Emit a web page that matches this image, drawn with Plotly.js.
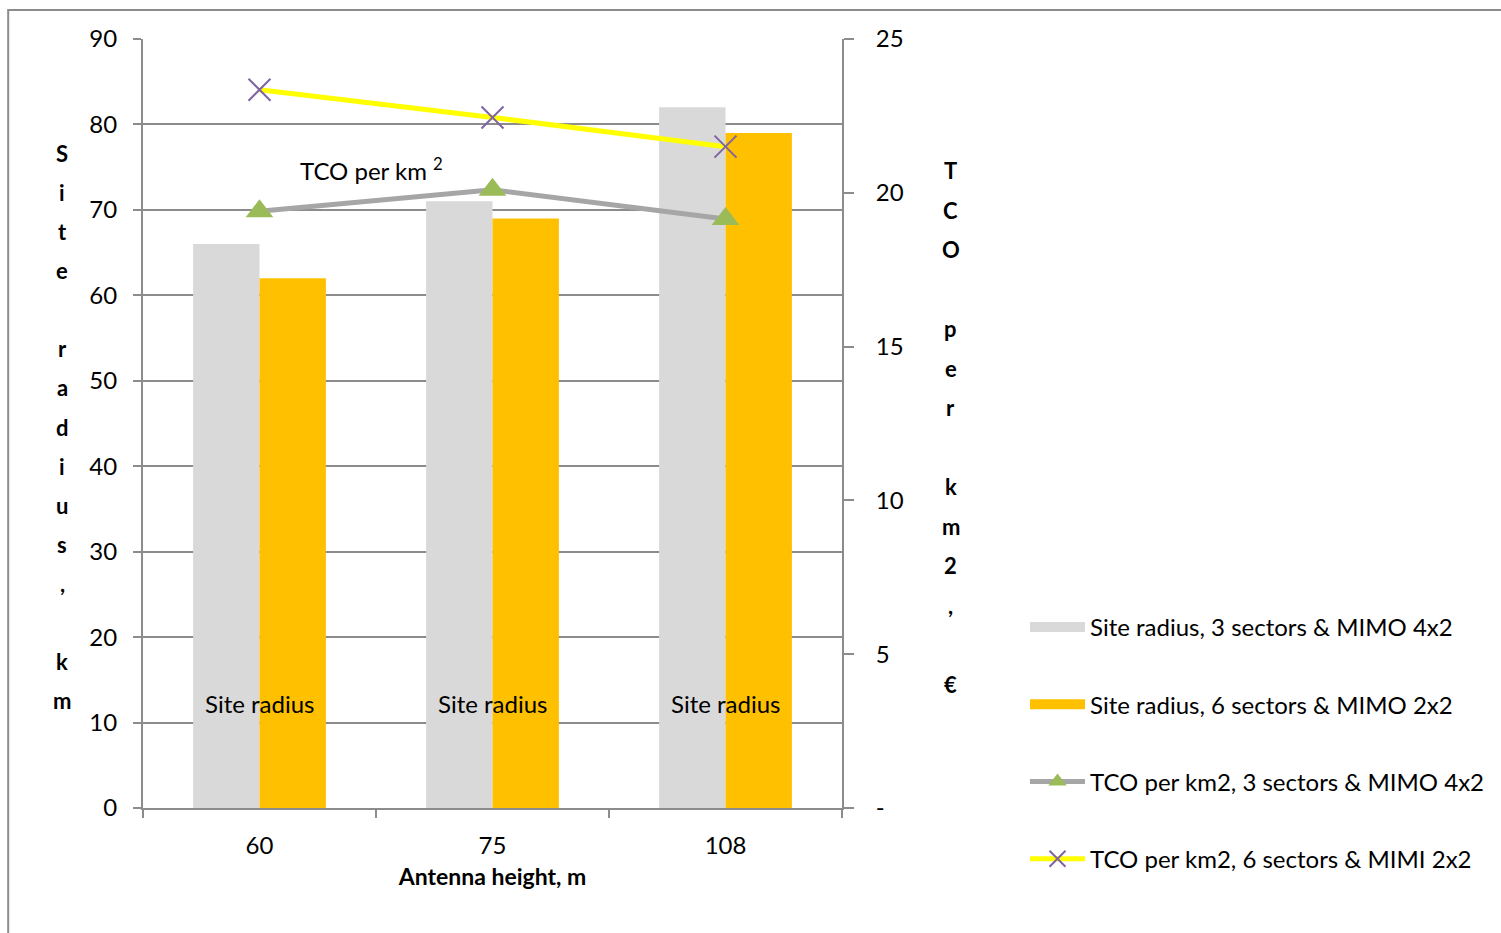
<!DOCTYPE html>
<html>
<head>
<meta charset="utf-8">
<script src="https://cdn.plot.ly/plotly-3.0.1.min.js"></script>
<style>html,body{margin:0;padding:0;background:#fff;}#chart{width:1501px;height:933px;}</style>
</head>
<body>
<div id="chart"></div>
<script>
const categories = ["60", "75", "108"];
const siteRadius3 = [66, 71, 82];
const siteRadius6 = [62, 69, 79];
const tco3 = [19.4, 20.1, 19.15];
const tco6 = [23.35, 22.45, 21.5];
const seriesNames = [
  "Site radius, 3 sectors & MIMO 4x2",
  "Site radius, 6 sectors & MIMO 2x2",
  "TCO per km2, 3 sectors & MIMO 4x2",
  "TCO per km2, 6 sectors & MIMI 2x2"
];
const leftTicks = [0, 10, 20, 30, 40, 50, 60, 70, 80, 90];
const rightTicks = [0, 5, 10, 15, 20, 25];
const rightTickText = ["-", "5", "10", "15", "20", "25"];
const barLabel = "Site radius";
const barLabelY = 12.2;
const leftTitle = "Site radius, km";
const rightTitle = "TCO per km2, €";
const xTitle = "Antenna height, m";
const lineLabel = "TCO per km <sup>2</sup>";

const FONT = "Lato, 'Open Sans', sans-serif";
const GRID = "#8c8c8c";
const C_BAR3 = "#D9D9D9", C_BAR6 = "#FFC000";

const traces = [
  {type: "bar", x: categories, y: siteRadius3, name: seriesNames[0], marker: {color: C_BAR3}, showlegend: false, yaxis: "y"},
  {type: "bar", x: categories, y: siteRadius6, name: seriesNames[1], marker: {color: C_BAR6}, showlegend: false, yaxis: "y"},
  {type: "scatter", mode: "lines+markers", x: categories, y: tco3, name: seriesNames[2], yaxis: "y2", legendgroup: "c", legendrank: 3,
   line: {color: "#A6A6A6", width: 5}, marker: {symbol: "triangle-up", size: 24, color: "#9BBB59"}},
  {type: "scatter", mode: "lines+markers", x: categories, y: tco6, name: seriesNames[3], yaxis: "y2", legendgroup: "d", legendrank: 4,
   line: {color: "#FFFF00", width: 5}, marker: {symbol: "x-thin-open", size: 22, color: "#8064A2", line: {color: "#8064A2", width: 2}}},
  // legend entries for the bar series (wide swatches as in the reference)
  {type: "scatter", mode: "lines", x: [null], y: [null], name: seriesNames[0], legendgroup: "a", legendrank: 1,
   line: {color: C_BAR3, width: 13}, hoverinfo: "skip"},
  {type: "scatter", mode: "lines", x: [null], y: [null], name: seriesNames[1], legendgroup: "b", legendrank: 2,
   line: {color: C_BAR6, width: 13}, hoverinfo: "skip"}
];

const annotations = [];
categories.forEach((c, i) => {
  annotations.push({x: i, y: barLabelY, xref: "x", yref: "y", text: barLabel, showarrow: false,
    font: {family: FONT, size: 24, color: "#000"}});
});
annotations.push({x: 0.48, y: 74.8, xref: "x", yref: "y", text: lineLabel, showarrow: false,
  font: {family: FONT, size: 24, color: "#000"}});

function stacked(str, xpx, centerPx, step) {
  const chars = Array.from(str);
  const n = chars.length;
  chars.forEach((ch, i) => {
    if (ch === " ") return;
    const py = centerPx + (i - (n - 1) / 2) * step;
    annotations.push({xref: "paper", yref: "paper", x: (xpx - 143) / 700, y: (808 - py) / 769,
      text: ch, showarrow: false, xanchor: "center", yanchor: "middle",
      font: {family: FONT, size: 22, color: "#000", weight: "bold"}});
  });
}
stacked(leftTitle, 62, 427, 39.1);
stacked(rightTitle, 952, 427.5, 39.5);

const layout = {
  width: 1501, height: 933,
  margin: {l: 143, r: 658, t: 39, b: 125},
  paper_bgcolor: "#fff", plot_bgcolor: "#fff",
  font: {family: FONT, size: 24, color: "#000"},
  barmode: "group", bargap: 0.43, bargroupgap: 0,
  showlegend: true,
  legend: {x: 1.26, y: 0.264, xanchor: "left", yanchor: "top", traceorder: "grouped", tracegroupgap: 43,
    font: {family: FONT, size: 24, color: "#000"}, bgcolor: "rgba(0,0,0,0)", itemwidth: 55},
  xaxis: {type: "category", range: [-0.5, 2.5], autorange: false, showline: true, linecolor: GRID, linewidth: 2,
    ticks: "outside", tickson: "boundaries", tickangle: 0,
    ticklen: 8, tickcolor: GRID, tickwidth: 2, showgrid: false, tickfont: {size: 24}, ticklabelstandoff: 15,
    title: {text: xTitle, font: {size: 23, weight: "bold"}, standoff: 11}},
  yaxis: {range: [0, 90], tickvals: leftTicks, showline: true, linecolor: GRID, linewidth: 2,
    ticks: "outside", ticklen: 8, tickcolor: GRID, tickwidth: 2, gridcolor: GRID, gridwidth: 2,
    zeroline: false, tickfont: {size: 24}, ticklabelstandoff: 11},
  yaxis2: {range: [0, 25], tickvals: rightTicks, ticktext: rightTickText, overlaying: "y", side: "right",
    showline: true, linecolor: GRID, linewidth: 2, ticks: "outside", ticklen: 10, tickcolor: GRID, tickwidth: 2,
    showgrid: false, zeroline: false, tickfont: {size: 24}, ticklabelstandoff: 17},
  annotations: annotations,
  shapes: [
    {type: "rect", xref: "paper", yref: "paper", x0: (8 - 143) / 700, x1: (1520 - 143) / 700,
     y0: (808 - 960) / 769, y1: (808 - 10) / 769, line: {color: GRID, width: 2}, fillcolor: "rgba(0,0,0,0)", layer: "below"}
  ]
};

Plotly.newPlot("chart", traces, layout, {displayModeBar: false, staticPlot: true});
</script>
</body>
</html>
